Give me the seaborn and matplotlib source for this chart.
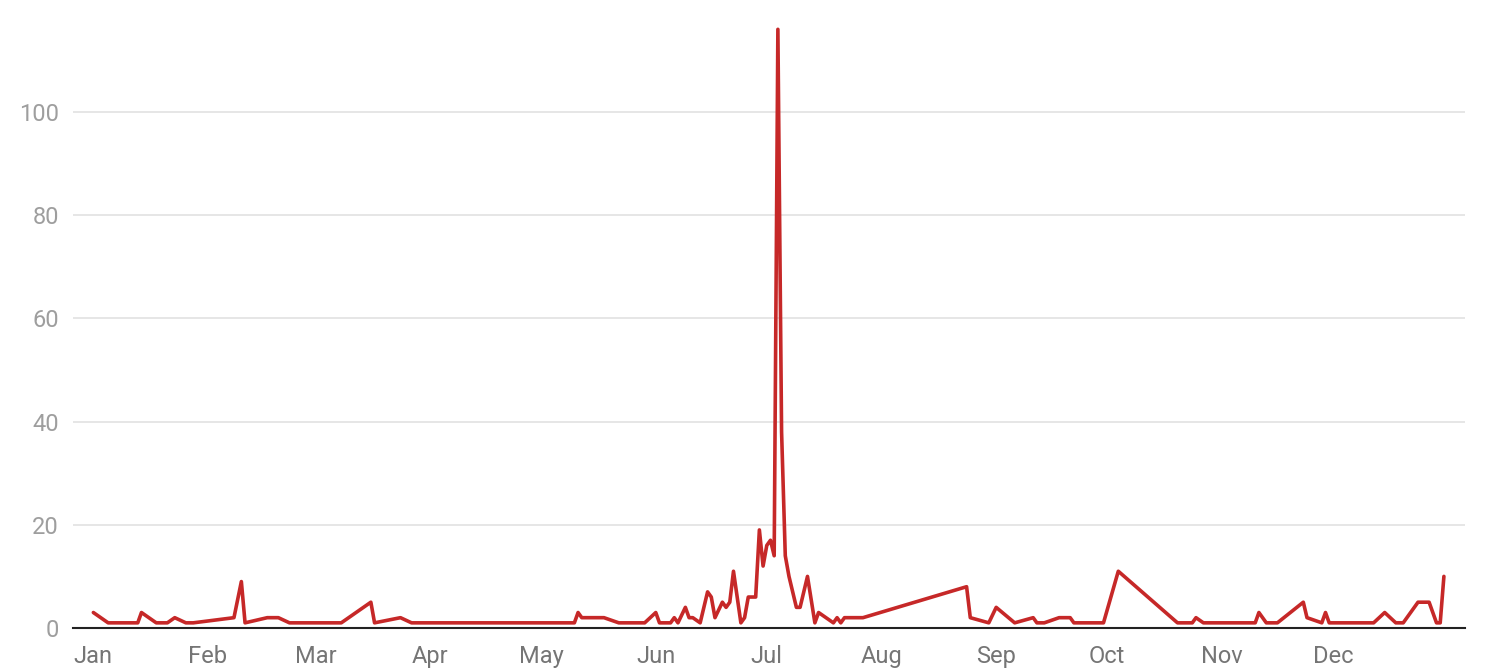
import pandas as pd
import matplotlib.pyplot as plt
import matplotlib.dates as mdates
import seaborn as sns

# daily counts (leap year, so Feb has 29 days)
dates = [
    "2016-01-01", "2016-01-05", "2016-01-13", "2016-01-14", "2016-01-18", "2016-01-21",
    "2016-01-23", "2016-01-26", "2016-01-28", "2016-02-08", "2016-02-10", "2016-02-11",
    "2016-02-17", "2016-02-20", "2016-02-23", "2016-03-08", "2016-03-16", "2016-03-17",
    "2016-03-24", "2016-03-27", "2016-05-10", "2016-05-11", "2016-05-12", "2016-05-18",
    "2016-05-22", "2016-05-29", "2016-06-01", "2016-06-02", "2016-06-05", "2016-06-06",
    "2016-06-07", "2016-06-09", "2016-06-10", "2016-06-11", "2016-06-13", "2016-06-15",
    "2016-06-16", "2016-06-17", "2016-06-19", "2016-06-20", "2016-06-21", "2016-06-22",
    "2016-06-24", "2016-06-25", "2016-06-26", "2016-06-28", "2016-06-29", "2016-06-30",
    "2016-07-01", "2016-07-02", "2016-07-03", "2016-07-04", "2016-07-05", "2016-07-06",
    "2016-07-07", "2016-07-09", "2016-07-10", "2016-07-12", "2016-07-14", "2016-07-15",
    "2016-07-17", "2016-07-19", "2016-07-20", "2016-07-21", "2016-07-22", "2016-07-27",
    "2016-08-24", "2016-08-25", "2016-08-30", "2016-09-01", "2016-09-06", "2016-09-11",
    "2016-09-12", "2016-09-14", "2016-09-18", "2016-09-21", "2016-09-22", "2016-09-30",
    "2016-10-04", "2016-10-20", "2016-10-24", "2016-10-25", "2016-10-27", "2016-11-10",
    "2016-11-11", "2016-11-13", "2016-11-16", "2016-11-23", "2016-11-24", "2016-11-28",
    "2016-11-29", "2016-11-30", "2016-12-12", "2016-12-15", "2016-12-18", "2016-12-20",
    "2016-12-24", "2016-12-27", "2016-12-29", "2016-12-30", "2016-12-31",
]
counts = [
    3, 1, 1, 3, 1, 1,
    2, 1, 1, 2, 9, 1,
    2, 2, 1, 1, 5, 1,
    2, 1, 1, 3, 2, 2,
    1, 1, 3, 1, 1, 2,
    1, 4, 2, 2, 1, 7,
    6, 2, 5, 4, 5, 11,
    1, 2, 6, 6, 19, 12,
    16, 17, 14, 116, 38, 14,
    10, 4, 4, 10, 1, 3,
    2, 1, 2, 1, 2, 2,
    8, 2, 1, 4, 1, 2,
    1, 1, 2, 2, 1, 1,
    11, 1, 1, 2, 1, 1,
    3, 1, 1, 5, 2, 1,
    3, 1, 1, 3, 1, 1,
    5, 5, 1, 1, 10,
]
months = ["Jan", "Feb", "Mar", "Apr", "May", "Jun",
          "Jul", "Aug", "Sep", "Oct", "Nov", "Dec"]
yticks = [0, 20, 40, 60, 80, 100]

df = pd.DataFrame({"date": pd.to_datetime(dates), "count": counts})

sns.set_theme(style="white")
plt.rcParams["font.family"] = ["Roboto", "DejaVu Sans"]

fig = plt.figure(figsize=(14.9, 6.69), dpi=100)
ax = fig.add_axes([73 / 1490, 41 / 669, (1465 - 73) / 1490, 609 / 669])

sns.lineplot(data=df, x="date", y="count", ax=ax, color="#c62828", linewidth=2.6)

ax.set_ylim(0, 118)
ax.set_xlim(pd.Timestamp("2016-01-01") - pd.Timedelta(days=5.5),
            pd.Timestamp("2016-12-31") + pd.Timedelta(days=5.7))
ax.set_yticks(yticks)
ax.yaxis.grid(True, color="#e6e6e6", linewidth=1.4)
ax.set_axisbelow(True)

month_starts = pd.date_range("2016-01-01", periods=12, freq="MS")
ax.set_xticks(mdates.date2num(month_starts))
ax.set_xticklabels(months)
for lab in ax.get_xticklabels():
    lab.set_verticalalignment("baseline")

for s in ["top", "right", "left"]:
    ax.spines[s].set_visible(False)
ax.spines["bottom"].set_color("#222222")
ax.spines["bottom"].set_linewidth(1.5)
ax.spines["bottom"].set_zorder(5)

ax.tick_params(axis="y", length=0, pad=10, labelsize=17, labelcolor="#9e9e9e")
ax.tick_params(axis="x", length=0, pad=25, labelsize=17, labelcolor="#757575")
ax.set_xlabel("")
ax.set_ylabel("")

fig.savefig("out.png", dpi=100)
